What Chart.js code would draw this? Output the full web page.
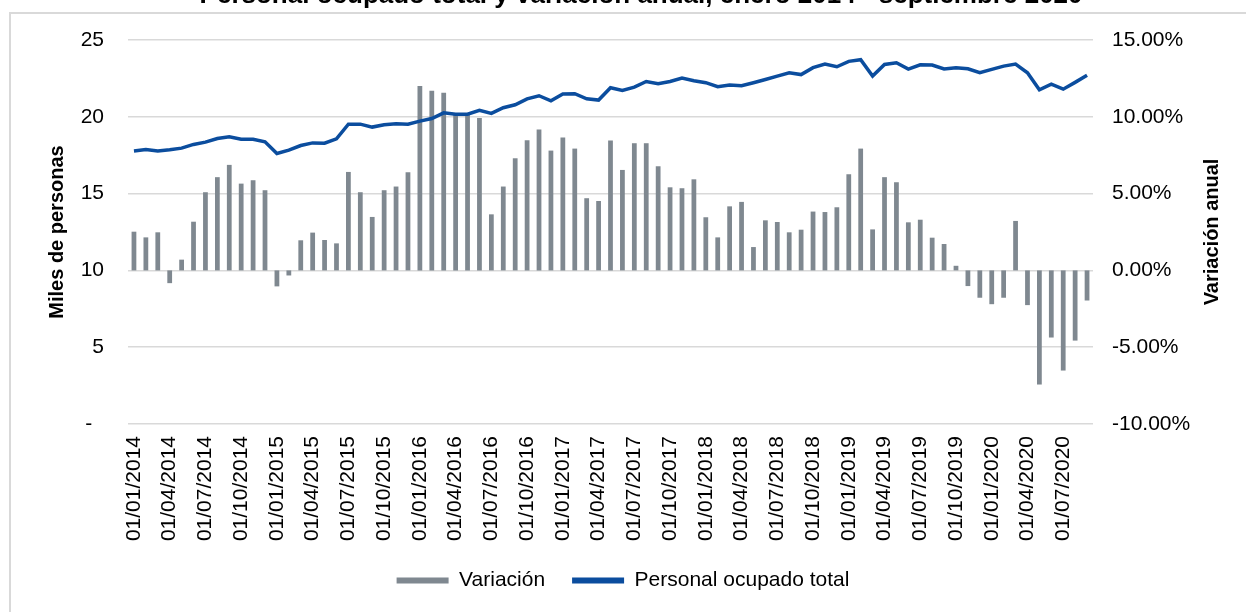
<!DOCTYPE html>
<html>
<head>
<meta charset="utf-8">
<script src="https://cdn.jsdelivr.net/npm/chart.js@4.4.0/dist/chart.umd.min.js"></script>
<style>
  html, body { margin: 0; padding: 0; background: #fff; }
  #wrap { position: relative; width: 1246px; height: 612px; overflow: hidden; background: #fff; }
  #frame { position: absolute; left: 9px; top: 12px; width: 1300px; height: 700px; border: 2px solid #d9d9d9; }
  #chart { position: absolute; left: 0; top: -18px; }
</style>
</head>
<body>
<div id="wrap">
  <div id="frame"></div>
  <canvas id="chart" width="1246" height="630"></canvas>
</div>
<script>
// ------------------------------------
// datos: enero 2014 - septiembre 2020
// ------------------------------------
const startYear = 2014;
const monthCount = 81;
const months = [];
for (let i = 0; i < monthCount; i++) {
  const m = (i % 12) + 1;
  const y = startYear + Math.floor(i / 12);
  months.push("01/" + String(m).padStart(2, "0") + "/" + y);
}

// variación anual (%)
const variacion = [
  2.52, 2.15, 2.48, -0.83, 0.70, 3.17, 5.09, 6.07, 6.87, 5.65,
  5.87, 5.22, -1.04, -0.33, 1.96, 2.46, 1.98, 1.76, 6.41, 5.09,
  3.48, 5.22, 5.46, 6.39, 12.0, 11.7, 11.57, 10.2, 10.2, 9.93,
  3.65, 5.46, 7.30, 8.48, 9.17, 7.80, 8.65, 7.93, 4.70, 4.52,
  8.46, 6.54, 8.28, 8.28, 6.78, 5.41, 5.35, 5.93, 3.46, 2.15,
  4.17, 4.46, 1.52, 3.26, 3.15, 2.48, 2.65, 3.83, 3.80, 4.11,
  6.26, 7.93, 2.67, 6.07, 5.74, 3.13, 3.30, 2.13, 1.72, 0.30,
  -1.02, -1.78, -2.20, -1.78, 3.22, -2.26, -7.43, -4.37, -6.52, -4.57,
  -1.96
];

// personal ocupado total (miles de personas)
const personal = [
  17.78, 17.87, 17.78, 17.85, 17.96, 18.20, 18.35, 18.59, 18.70, 18.54,
  18.54, 18.37, 17.61, 17.83, 18.13, 18.30, 18.28, 18.57, 19.52, 19.52,
  19.33, 19.48, 19.54, 19.52, 19.72, 19.89, 20.26, 20.17, 20.17, 20.42,
  20.22, 20.59, 20.78, 21.17, 21.37, 21.04, 21.48, 21.50, 21.17, 21.09,
  21.89, 21.72, 21.93, 22.30, 22.15, 22.30, 22.52, 22.35, 22.22, 21.96,
  22.07, 22.02, 22.22, 22.43, 22.65, 22.87, 22.75, 23.20, 23.43, 23.26,
  23.61, 23.72, 22.65, 23.41, 23.52, 23.11, 23.39, 23.37, 23.11, 23.20,
  23.13, 22.87, 23.09, 23.30, 23.43, 22.87, 21.76, 22.13, 21.80, 22.24,
  22.70
];

const FONT = '"Liberation Sans", Arial, sans-serif';
Chart.defaults.font.family = FONT;
Chart.defaults.font.size = 21;
Chart.defaults.color = "#000";

// título del eje derecho (Excel lo gira igual que el izquierdo)
const rightTitle = {
  id: "rightTitle",
  afterDraw(chart) {
    const a = chart.chartArea;
    const ctx = chart.ctx;
    ctx.save();
    ctx.translate(1212, (a.top + a.bottom) / 2);
    ctx.rotate(-Math.PI / 2);
    ctx.font = "bold 20px " + FONT;
    ctx.fillStyle = "#000";
    ctx.textAlign = "center";
    ctx.textBaseline = "middle";
    ctx.fillText("Variación anual", 0, 0);
    ctx.restore();
  },
};

new Chart(document.getElementById("chart"), {
  type: "bar",
  data: {
    labels: months,
    datasets: [
      {
        label: "Variación",
        data: variacion,
        yAxisID: "y1",
        backgroundColor: "#7f8890",
        barPercentage: 0.4,
        categoryPercentage: 1,
        order: 2,
      },
      {
        type: "line",
        label: "Personal ocupado total",
        data: personal,
        yAxisID: "y",
        borderColor: "#0b4d9e",
        backgroundColor: "#0b4d9e",
        borderWidth: 3.5,
        pointRadius: 0,
        tension: 0,
        order: 1,
      },
    ],
  },
  options: {
    responsive: false,
    animation: false,
    layout: { padding: { bottom: 11 } },
    plugins: {
      tooltip: { enabled: false },
      title: {
        display: true,
        text: "\u00A0\u00A0\u00A0\u00A0\u00A0Personal ocupado total y variación anual, enero 2014 - septiembre 2020",
        font: { size: 26, weight: "bold", lineHeight: 1 },
        padding: { top: 1, bottom: 31 },
      },
      legend: {
        position: "bottom",
        labels: {
          boxWidth: 52,
          boxHeight: 6,
          padding: 27,
          sort: (a, b) => a.datasetIndex - b.datasetIndex,
          generateLabels(chart) {
            const items = Chart.defaults.plugins.legend.labels.generateLabels(chart);
            items.forEach((it) => {
              it.lineWidth = 0;
              it.fillStyle = chart.data.datasets[it.datasetIndex].backgroundColor;
            });
            return items;
          },
        },
      },
    },
    scales: {
      x: {
        grid: { display: false, drawTicks: false },
        border: { display: false },
        ticks: {
          autoSkip: false,
          maxRotation: 90,
          minRotation: 90,
          padding: 12,
          callback: function (val, index) {
            return index % 3 === 0 ? this.getLabelForValue(val) : "";
          },
        },
        afterFit: (s) => { s.height = 119; },
      },
      y: {
        position: "left",
        min: 0,
        max: 25,
        ticks: {
          stepSize: 5,
          padding: 24,
          callback: (v) => (v === 0 ? "-  " : v),
        },
        grid: { color: "#d9d9d9", lineWidth: 1.5, drawTicks: false },
        border: { display: false },
        title: {
          display: true,
          text: "Miles de personas",
          font: { size: 20, weight: "bold" },
          padding: { top: 45, bottom: 0 },
        },
        afterFit: (s) => { s.width = 128; },
      },
      y1: {
        position: "right",
        min: -10,
        max: 15,
        ticks: {
          stepSize: 5,
          padding: 19,
          callback: (v) => v.toFixed(2) + "%",
        },
        grid: { display: false, drawTicks: false },
        border: { display: false },
        afterFit: (s) => { s.width = 153; },
      },
    },
  },
  plugins: [rightTitle],
});
</script>
</body>
</html>
